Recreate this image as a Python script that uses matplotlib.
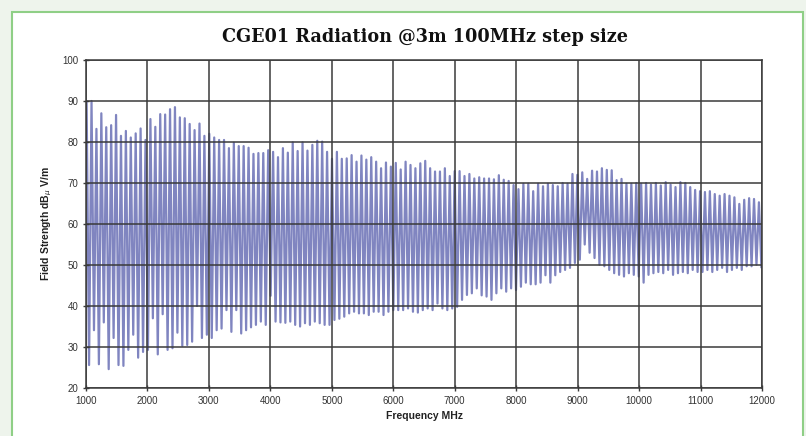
import numpy as np
import matplotlib.pyplot as plt
from matplotlib.patches import Rectangle

# peak readings, roughly 80 MHz apart, 1000 -> 12000 MHz
peaks_a = [89.8, 90.0, 83.2, 87.0, 83.6, 84.1, 86.6, 81.5, 82.7, 81.1,
           82.1, 83.3, 80.5, 85.6, 83.7, 86.8, 86.7, 88.0, 88.5, 86.0,
           85.8, 84.4, 82.9, 84.5, 81.5, 82.0, 81.1, 80.5, 80.5, 78.5,
           79.8, 79.0, 79.0, 78.6, 77.1, 77.3, 77.3, 78.0, 77.6, 76.3]
peaks_b = [78.5, 77.4, 79.9, 77.8, 79.9, 77.9, 79.3, 80.3, 80.1, 77.6,
           75.9, 77.6, 75.9, 76.0, 76.8, 75.2, 76.7, 75.7, 76.3, 75.2,
           73.6, 75.0, 74.0, 74.9, 73.3, 75.2, 74.4, 73.6, 74.8, 75.4,
           73.6, 72.8, 72.8, 73.6, 71.7, 72.9, 72.9, 71.7, 72.2, 71.1,
           71.4, 71.1, 71.1, 70.9, 71.9, 70.8, 70.5, 69.5]
peaks_c = [68.5, 69.8, 69.8, 68.0, 69.8, 69.2, 69.8, 69.5, 69.2, 70.0,
           69.8, 72.2, 72.0, 72.6, 71.0, 73.0, 72.8, 73.6, 73.2, 73.1,
           70.7, 71.0, 69.8, 69.8, 70.0, 69.8, 70.0, 69.6, 70.0, 69.4,
           70.2, 69.6, 69.0, 70.2, 70.0, 69.0, 68.3, 68.0, 67.8, 68.0,
           67.3, 66.9, 67.3, 66.9, 66.5, 64.9, 65.9, 66.3, 66.1, 65.3]

# trough readings between the peaks
troughs_a = [25.6, 34.1, 25.8, 36.0, 24.6, 32.2, 25.6, 25.4, 29.3, 33.0,
             27.4, 28.8, 29.3, 37.0, 28.2, 38.0, 29.3, 29.7, 33.5, 30.3,
             30.5, 31.3, 40.0, 32.2, 33.0, 32.2, 34.1, 34.5, 39.0, 33.7,
             39.0, 33.3, 34.1, 34.8, 35.4, 36.2, 35.4, 42.5, 36.2, 36.0]
troughs_b = [35.9, 36.2, 35.4, 35.0, 35.8, 35.4, 36.2, 35.8, 35.4, 35.4,
             36.6, 36.9, 37.4, 38.2, 38.6, 38.2, 38.2, 37.8, 38.6, 38.6,
             37.8, 38.6, 39.0, 39.0, 39.0, 39.4, 38.6, 38.4, 39.0, 39.4,
             39.0, 40.6, 39.4, 39.0, 39.4, 39.8, 41.5, 42.7, 43.1, 44.3,
             42.6, 42.3, 41.5, 43.1, 44.3, 43.5, 44.3, 43.9]
troughs_c = [44.7, 45.7, 45.3, 45.3, 45.7, 47.5, 45.7, 47.5, 48.3, 48.8,
             49.3, 50.5, 51.3, 55.0, 53.0, 51.7, 50.1, 49.7, 48.8, 48.0,
             47.6, 47.2, 48.0, 47.6, 47.2, 45.7, 47.6, 48.0, 48.3, 48.0,
             48.8, 47.6, 48.0, 48.3, 48.0, 48.8, 48.3, 48.3, 48.8, 48.3,
             48.8, 49.3, 48.3, 48.8, 49.3, 48.8, 49.7, 49.7, 50.1, 49.5]

peaks = peaks_a + peaks_b + peaks_c
troughs = troughs_a + troughs_b + troughs_c

level = np.empty(2 * len(peaks))
level[0::2] = peaks
level[1::2] = troughs
freq = np.linspace(1010, 11990, len(level))

fig = plt.figure(figsize=(8.06, 4.36), dpi=100)
fig.patch.set_facecolor('#eef4ec')
panel = Rectangle((12 / 806, -0.05), 791 / 806, 1 - 12 / 436 + 0.05,
                  transform=fig.transFigure, facecolor='white',
                  edgecolor='#8fcf86', linewidth=1.5, zorder=-5)
fig.add_artist(panel)

ax = fig.add_axes([86 / 806, 1 - 388 / 436, 676 / 806, 328 / 436])
ax.set_zorder(2)
ax.plot(freq, level, color='#8085c0', lw=1.6, zorder=2)

ax.set_xlim(1000, 12000)
ax.set_ylim(20, 100)
ax.set_xticks(np.arange(1000, 12001, 1000))
ax.set_yticks(np.arange(20, 101, 10))
ax.grid(True, color='#3a3a3a', lw=1.1, zorder=3)
ax.set_axisbelow(False)
for s in ax.spines.values():
    s.set_color('#3a3a3a')
    s.set_linewidth(1.1)
    s.set_zorder(4)
ax.tick_params(direction='inout', length=5, width=1, color='#3a3a3a',
               labelsize=7, labelcolor='#333333', pad=3)
for t in ax.get_xticklabels() + ax.get_yticklabels():
    t.set_family('Liberation Sans')

ax.set_xlabel('Frequency MHz', fontsize=7.5, fontweight='bold',
              family='Liberation Sans', color='#222222', labelpad=4)
ax.set_ylabel(r'Field Strength dB$_\mu$ V/m', fontsize=7.5, fontweight='bold',
              family='Liberation Sans', color='#222222', labelpad=6)
fig.text(425 / 806, 1 - 37 / 436, 'CGE01 Radiation @3m 100MHz step size',
         ha='center', va='center', fontsize=12.7, fontweight='bold',
         family='DejaVu Serif', color='#111111')

fig.savefig('out.png', dpi=100, facecolor=fig.get_facecolor())
